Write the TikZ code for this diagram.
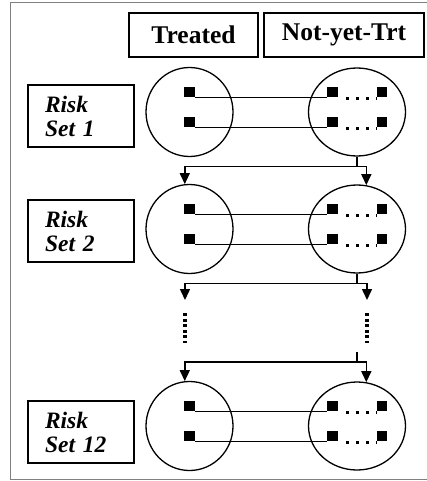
\documentclass[tikz,border=0pt]{standalone}
\usepackage{fontspec}
\setmainfont{Liberation Serif}
\usetikzlibrary{shapes.geometric,arrows.meta}
\begin{document}
\begin{tikzpicture}[x=1pt,y=-1pt,
  hdbox/.style={draw,line width=1.4pt,minimum height=44pt,inner sep=0pt,
    font=\fontsize{25.5}{27}\selectfont\bfseries},
  rkbox/.style={draw,line width=1.4pt,minimum width=106pt,minimum height=62pt,
    inner xsep=17pt,inner ysep=0pt,text width=72pt,align=left,
    font=\fontsize{23.5}{24}\selectfont\bfseries\itshape},
  lset/.style={ellipse,draw,line width=1.3pt,minimum width=87pt,minimum height=89pt,inner sep=0pt},
  rset/.style={ellipse,draw,line width=1.3pt,minimum width=97pt,minimum height=88pt,inner sep=0pt},
  unit/.style={fill=black,minimum size=10.5pt,inner sep=0pt},
  pair/.style={line width=1.5pt},
  conn/.style={line width=1.5pt},
  arr/.style={line width=1.5pt,-{Triangle[width=10pt,length=11pt]}},
  dots/.style={line width=3pt,dash pattern=on 3pt off 7pt},
  vdots/.style={line width=3.5pt,dash pattern=on 3pt off 2.6pt},
  frame/.style={draw=gray,line width=1pt}]
\useasboundingbox (0,0) rectangle (426,481);
\draw[frame] (440,3) -- (10,3) -- (10,479) -- (440,479);

\node[hdbox,minimum width=129pt] (trt) at (193.5,35) {Treated};
\node[hdbox,minimum width=160pt] (nyt) at (344,35) {Not-yet-Trt};

\foreach \i/\c/\lab/\yb in {1/112/1/116, 2/229/2/231, 3/426/12/432}{
  \node[rkbox] (rk\i) at (81,\yb) {Risk\\Set \lab};
  \node[lset] (L\i) at (189.5,\c) {};
  \node[rset] (R\i) at (357,\c) {};
  \node[unit] (a\i) at (189.5,\c-20) {};
  \node[unit] (b\i) at (189.5,\c+10) {};
  \node[unit] (pa\i) at (332.5,\c-20) {};
  \node[unit] (qa\i) at (382,\c-20) {};
  \node[unit] (pb\i) at (332.5,\c+10) {};
  \node[unit] (qb\i) at (382,\c+10) {};
  \draw[pair] (a\i.south east) -- (pa\i.south west);
  \draw[pair] (b\i.south east) -- (pb\i.south west);
  \draw[dots] ([xshift=8.5pt,yshift=-1.5pt]pa\i.south east) -- ([yshift=-1.5pt]qa\i.south west);
  \draw[dots] ([xshift=8.5pt,yshift=-1.5pt]pb\i.south east) -- ([yshift=-1.5pt]qb\i.south west);
}

% first transition
\draw[conn] (R1.south) -- ++(0,10) coordinate (j1);
\draw[arr] (j1) -| (L2.96);
\draw[arr] (j1) -| (R2.78);

% second transition to ellipsis
\coordinate (t1) at (185,300);
\coordinate (t2) at (367,300);
\draw[conn] (R2.south) -- ++(0,10) coordinate (j2);
\draw[arr] (j2) -| (t1);
\draw[arr] (j2) -| (t2);
\coordinate (u1) at (185,313);
\coordinate (v1) at (185,343);
\coordinate (u2) at (367,313);
\coordinate (v2) at (367,343);
\draw[vdots] (u1) -- (v1);
\draw[vdots] (u2) -- (v2);

% third transition
\coordinate (s3) at (357,352);
\draw[conn] (s3) -- ++(0,10) coordinate (j3);
\draw[arr] (j3) -| (L3.96);
\draw[arr] (j3) -| (R3.78);
\end{tikzpicture}
\end{document}
